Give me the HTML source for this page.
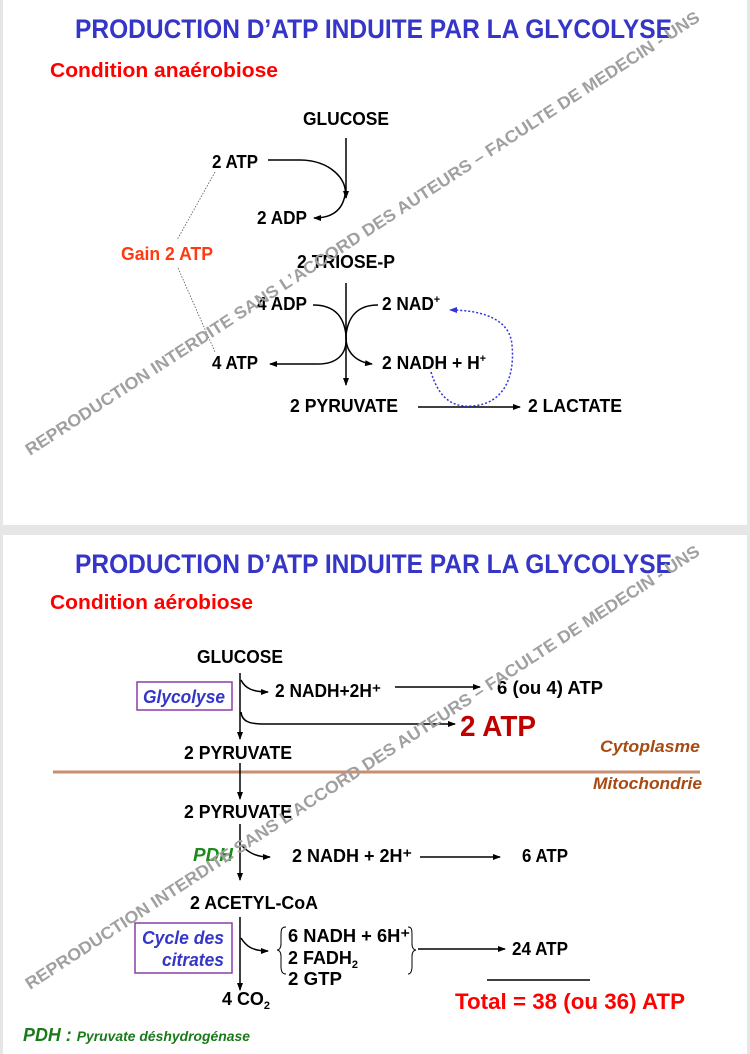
<!DOCTYPE html>
<html><head><meta charset="utf-8"><style>
html,body{margin:0;padding:0;background:#e6e6e6;}
svg{display:block;}
text{font-family:"Liberation Sans",Arial,sans-serif;font-weight:bold;}
</style></head><body>
<svg width="750" height="1054" viewBox="0 0 750 1054" xmlns="http://www.w3.org/2000/svg">
<defs>
<marker id="ah" markerWidth="8" markerHeight="8" refX="7" refY="4" orient="auto" markerUnits="userSpaceOnUse"><path d="M0,1 L8,4 L0,7 Z" fill="#000"/></marker>
<marker id="ahb" markerWidth="8" markerHeight="8" refX="7" refY="4" orient="auto" markerUnits="userSpaceOnUse"><path d="M0,1 L8,4 L0,7 Z" fill="#3333dd"/></marker>
</defs>
<rect x="0" y="0" width="750" height="1054" fill="#e6e6e6"/>
<rect x="3" y="0" width="744" height="525" fill="#fff"/>
<rect x="3" y="535" width="744" height="519" fill="#fff"/>

<!-- SLIDE 1 -->
<text x="75" y="38" font-size="27" fill="#3535c8" textLength="597" lengthAdjust="spacingAndGlyphs">PRODUCTION D’ATP INDUITE PAR LA GLYCOLYSE</text>
<text x="50" y="77" font-size="20" fill="#ff0000" textLength="228" lengthAdjust="spacingAndGlyphs">Condition anaérobiose</text>

<g font-size="18" fill="#000">
<text x="346" y="125" text-anchor="middle" textLength="86" lengthAdjust="spacingAndGlyphs">GLUCOSE</text>
<text x="212" y="168" textLength="46" lengthAdjust="spacingAndGlyphs">2 ATP</text>
<text x="257" y="224" textLength="50" lengthAdjust="spacingAndGlyphs">2 ADP</text>
<text x="346" y="268" text-anchor="middle" textLength="98" lengthAdjust="spacingAndGlyphs">2 TRIOSE-P</text>
<text x="257" y="310" textLength="50" lengthAdjust="spacingAndGlyphs">4 ADP</text>
<text x="382" y="310" textLength="58" lengthAdjust="spacingAndGlyphs">2  NAD<tspan font-size="11" dy="-7">+</tspan></text>
<text x="212" y="369" textLength="46" lengthAdjust="spacingAndGlyphs">4 ATP</text>
<text x="382" y="369" textLength="104" lengthAdjust="spacingAndGlyphs">2  NADH + H<tspan font-size="11" dy="-7">+</tspan></text>
<text x="290" y="412" textLength="108" lengthAdjust="spacingAndGlyphs">2 PYRUVATE</text>
<text x="528" y="412" textLength="94" lengthAdjust="spacingAndGlyphs">2 LACTATE</text>
</g>
<text x="121" y="260" font-size="18" fill="#ff3a10" textLength="92" lengthAdjust="spacingAndGlyphs">Gain 2 ATP</text>

<g stroke="#000" stroke-width="1.5" fill="none">
<line x1="346" y1="138" x2="346" y2="198" marker-end="url(#ah)"/>
<path d="M268,160 L300,160 C330,160 348,180 345,195 C342,212 330,218 314,218" marker-end="url(#ah)"/>
<line x1="346" y1="283" x2="346" y2="385" marker-end="url(#ah)"/>
<path d="M313,305 C336,305 344,318 346,335 C348,355 336,364 318,364 L270,364" marker-end="url(#ah)"/>
<path d="M378,305 C356,305 348,318 346,335 C345,352 356,362 372,364" marker-end="url(#ah)"/>
<line x1="418" y1="407" x2="520" y2="407" marker-end="url(#ah)"/>
</g>
<g stroke="#555" stroke-width="0.8" stroke-dasharray="1.5,1.5" fill="none">
<line x1="215" y1="172" x2="177" y2="240"/>
<line x1="178" y1="268" x2="215" y2="352"/>
</g>
<path d="M431,372 C438,395 450,408 472,406 C505,404 515,375 512,345 C510,318 480,310 450,310" stroke="#3333dd" stroke-width="1.5" stroke-dasharray="2,2" fill="none" marker-end="url(#ahb)"/>

<text x="0" y="0" font-size="17" fill="#a0a0a0" font-weight="bold" transform="translate(30,456) rotate(-33)" textLength="800" lengthAdjust="spacingAndGlyphs">REPRODUCTION INTERDITE SANS L’ACCORD DES AUTEURS – FACULTE DE MEDECIN - UNS</text>

<!-- SLIDE 2 -->
<text x="75" y="573" font-size="27" fill="#3535c8" textLength="597" lengthAdjust="spacingAndGlyphs">PRODUCTION D’ATP INDUITE PAR LA GLYCOLYSE</text>
<text x="50" y="609" font-size="20" fill="#ff0000" textLength="203" lengthAdjust="spacingAndGlyphs">Condition aérobiose</text>

<line x1="53" y1="772" x2="700" y2="772" stroke="#c98e70" stroke-width="3"/>
<text x="700" y="752" font-size="17" font-style="italic" fill="#a84a12" text-anchor="end" textLength="100" lengthAdjust="spacingAndGlyphs">Cytoplasme</text>
<text x="702" y="789" font-size="17" font-style="italic" fill="#a84a12" text-anchor="end" textLength="109" lengthAdjust="spacingAndGlyphs">Mitochondrie</text>

<rect x="137" y="682" width="95" height="28" fill="none" stroke="#8a3fa8" stroke-width="1.5"/>
<text x="184" y="703" font-size="18" font-style="italic" fill="#3535c8" text-anchor="middle" textLength="82" lengthAdjust="spacingAndGlyphs">Glycolyse</text>
<rect x="135" y="923" width="97" height="50" fill="none" stroke="#8a3fa8" stroke-width="1.5"/>
<text x="224" y="944" font-size="18" font-style="italic" fill="#3535c8" text-anchor="end" textLength="82" lengthAdjust="spacingAndGlyphs">Cycle des</text>
<text x="224" y="966" font-size="18" font-style="italic" fill="#3535c8" text-anchor="end" textLength="62" lengthAdjust="spacingAndGlyphs">citrates</text>

<g font-size="18" fill="#000">
<text x="240" y="663" text-anchor="middle" textLength="86" lengthAdjust="spacingAndGlyphs">GLUCOSE</text>
<text x="275" y="697" textLength="106" lengthAdjust="spacingAndGlyphs">2 NADH+2H⁺</text>
<text x="497" y="694" textLength="106" lengthAdjust="spacingAndGlyphs">6  (ou 4) ATP</text>
<text x="184" y="759" textLength="108" lengthAdjust="spacingAndGlyphs">2 PYRUVATE</text>
<text x="184" y="818" textLength="108" lengthAdjust="spacingAndGlyphs">2 PYRUVATE</text>
<text x="292" y="862" textLength="120" lengthAdjust="spacingAndGlyphs">2  NADH + 2H⁺</text>
<text x="522" y="862" textLength="46" lengthAdjust="spacingAndGlyphs">6 ATP</text>
<text x="190" y="909" textLength="128" lengthAdjust="spacingAndGlyphs">2 ACETYL-CoA</text>
<text x="288" y="942" textLength="122" lengthAdjust="spacingAndGlyphs">6  NADH + 6H⁺</text>
<text x="288" y="964" textLength="70" lengthAdjust="spacingAndGlyphs">2  FADH<tspan font-size="11" dy="4">2</tspan></text>
<text x="288" y="985" textLength="54" lengthAdjust="spacingAndGlyphs">2  GTP</text>
<text x="512" y="955" textLength="56" lengthAdjust="spacingAndGlyphs">24 ATP</text>
<text x="222" y="1005" textLength="48" lengthAdjust="spacingAndGlyphs">4 CO<tspan font-size="11" dy="4">2</tspan></text>
</g>
<text x="460" y="736" font-size="29" fill="#c00000" textLength="76" lengthAdjust="spacingAndGlyphs">2 ATP</text>
<text x="193" y="861" font-size="18" font-style="italic" fill="#1a8a1a" textLength="40" lengthAdjust="spacingAndGlyphs">PDH</text>
<text x="455" y="1009" font-size="22" fill="#ff0000" textLength="230" lengthAdjust="spacingAndGlyphs">Total  =  38 (ou 36) ATP</text>
<text x="23" y="1041" font-size="18" font-style="italic" fill="#1a7a1a" textLength="227" lengthAdjust="spacingAndGlyphs">PDH : <tspan font-size="14">Pyruvate déshydrogénase</tspan></text>

<g stroke="#000" stroke-width="1.5" fill="none">
<line x1="240" y1="673" x2="240" y2="739" marker-end="url(#ah)"/>
<line x1="240" y1="763" x2="240" y2="799" marker-end="url(#ah)"/>
<line x1="240" y1="824" x2="240" y2="880" marker-end="url(#ah)"/>
<line x1="240" y1="917" x2="240" y2="990" marker-end="url(#ah)"/>
<path d="M241,680 C245,688 252,692 268,692" marker-end="url(#ah)"/>
<line x1="395" y1="687" x2="480" y2="687" marker-end="url(#ah)"/>
<path d="M241,712 C242,722 250,724 265,724 L455,724" marker-end="url(#ah)"/>
<path d="M241,845 C248,852 255,857 270,857" marker-end="url(#ah)"/>
<line x1="420" y1="857" x2="500" y2="857" marker-end="url(#ah)"/>
<path d="M241,938 C246,946 252,951 268,951" marker-end="url(#ah)"/>
<line x1="418" y1="949" x2="505" y2="949" marker-end="url(#ah)"/>
<path d="M286,927 C281,927 281,930 281,936 L281,944 C281,948 279,950 277,950 C279,950 281,952 281,956 L281,966 C281,971 282,974 286,974" stroke-width="1"/>
<path d="M408,927 C412,927 412,930 412,936 L412,944 C412,948 414,950 416,950 C414,950 412,952 412,956 L412,966 C412,971 411,974 408,974" stroke-width="1"/>
<line x1="487" y1="980" x2="590" y2="980" stroke-width="1.5"/>
</g>

<text x="0" y="0" font-size="17" fill="#a0a0a0" font-weight="bold" transform="translate(30,990) rotate(-33)" textLength="800" lengthAdjust="spacingAndGlyphs">REPRODUCTION INTERDITE SANS L’ACCORD DES AUTEURS – FACULTE DE MEDECIN - UNS</text>
</svg>
</body></html>
